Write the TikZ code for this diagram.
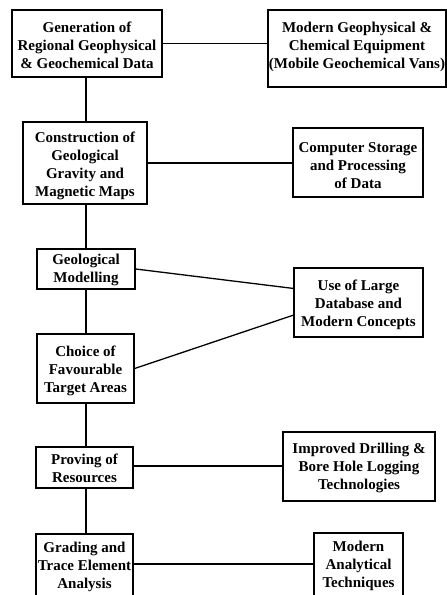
\documentclass[tikz,border=0pt]{standalone}
\usepackage{fontspec}
\setmainfont{Liberation Serif}
\usetikzlibrary{calc}
\tikzset{
  box/.style={draw, line width=1.3bp, inner sep=0pt},
  txt/.style={inner sep=0pt, align=center,
    font=\fontsize{15bp}{18bp}\selectfont\bfseries},
  link/.style={line width=1.3bp},
}
\begin{document}
\begin{tikzpicture}[x=1bp, y=-1bp]
\useasboundingbox (0,0) rectangle (447,595);
\clip (0,0) rectangle (447,595);

% main sequence of steps
\node[box, minimum width=150bp, minimum height=67bp] (b1) at (87,43.5) {};
\node[box, minimum width=124bp, minimum height=82bp] (b3) at (85,163) {};
\node[box, minimum width=98bp, minimum height=40bp] (b5) at (86,269) {};
\node[box, minimum width=97bp, minimum height=69bp] (b7) at (85.5,368.5) {};
\node[box, minimum width=97bp, minimum height=41bp] (b8) at (84.5,467.5) {};
\node[box, minimum width=97bp, minimum height=76bp] (b10) at (84.5,572) {};

\node[txt] (t1) at ([yshift=-2bp]b1.center)
  {Generation of\\Regional Geophysical\\\& Geochemical Data};
\node[txt] (t3) at ([yshift=-3bp]b3.center)
  {Construction of\\Geological\\Gravity and\\Magnetic Maps};
\node[txt] (t5) at ([yshift=-1bp]b5.center) {Geological\\Modelling};
\node[txt] (t7) at ([yshift=-2bp]b7.center) {Choice of\\Favourable\\Target Areas};
\node[txt] (t8) at ([yshift=-1bp]b8.center) {Proving of\\Resources};
\node[txt] (t10) at ([yshift=5bp]b10.center) {Grading and\\Trace Element\\Analysis};

% supporting technologies
\node[box, minimum width=178bp, minimum height=77bp] (b2) at (357,48.5) {};
\node[box, minimum width=130bp, minimum height=69bp] (b4) at (358,162.5) {};
\node[box, minimum width=129bp, minimum height=69bp] (b6) at (358.5,302.5) {};
\node[box, minimum width=152bp, minimum height=69bp] (b9) at (359,466.5) {};
\node[box, minimum width=89bp, minimum height=76bp] (b11) at (358.5,571) {};

\node[txt] (t2) at ([yshift=2bp]b2.center)
  {Modern Geophysical \&\\Chemical Equipment\\(Mobile Geochemical Vans)};
\node[txt] (t4) at ([yshift=-3bp]b4.center) {Computer Storage\\and Processing\\of Data};
\node[txt] (t6) at ([yshift=-2bp]b6.center) {Use of Large\\Database and\\Modern Concepts};
\node[txt] (t9) at ([yshift=-1bp]b9.center) {Improved Drilling \&\\Bore Hole Logging\\Technologies};
\node[txt] (t11) at ([yshift=5bp]b11.center) {Modern\\Analytical\\Techniques};

% vertical chain
\draw[link] (b1.south -| 86,0) -- (b3.north -| 86,0);
\draw[link] (b3.south -| 86,0) -- (b5.north -| 86,0);
\draw[link] (b5.south -| 86,0) -- (b7.north -| 86,0);
\draw[link] (b7.south -| 86,0) -- (b8.north -| 86,0);
\draw[link] (b8.south -| 86,0) -- (b10.north -| 86,0);

% side links
\draw[link] (b1.east) -- (b1.east -| b2.west);
\draw[link] (b3.east) -- (b3.east -| b4.west);
\draw[link] (b5.east) -- ($(b6.north west)!0.3!(b6.south west)$);
\draw[link] (b7.east) -- ($(b6.north west)!0.68!(b6.south west)$);
\draw[link] (b8.east |- 0,466) -- (b9.west |- 0,466);
\draw[link] ([yshift=8bp]b10.east) -- ([yshift=8bp]b10.east -| b11.west);
\end{tikzpicture}
\end{document}
